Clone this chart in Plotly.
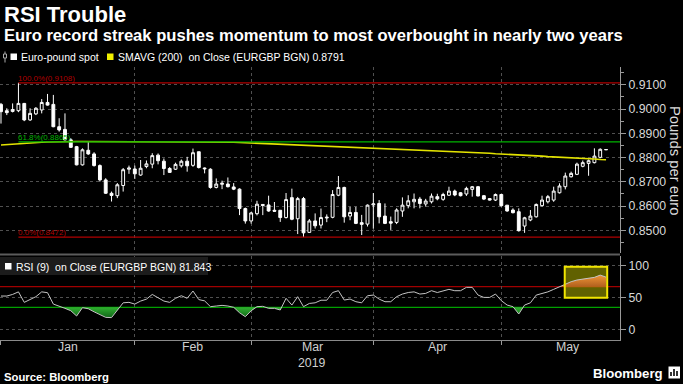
import numpy as np
import pandas as pd
import plotly.graph_objects as go

# ---------------- data ----------------
dates = pd.bdate_range("2019-01-01", "2019-05-27")

open_ = [.9019, .8993, .8990, .8993, .9023, .8955, .8980, .8996, .9027, .9019,
         .8927, .8916, .8873, .8845, .8770, .8830, .8815, .8767, .8708, .8653,
         .8643, .8685, .8752, .8753, .8728, .8763, .8773, .8810, .8785, .8755,
         .8752, .8766, .8785, .8768, .8824, .8757, .8752, .8677, .8690, .8691,
         .8679, .8670, .8590, .8539, .8569, .8607, .8605, .8583, .8583, .8553,
         .8635, .8548, .8631, .8492, .8539, .8522, .8555, .8554, .8645, .8677,
         .8559, .8574, .8532, .8526, .8605, .8611, .8559, .8536, .8533, .8580,
         .8602, .8618, .8629, .8609, .8618, .8639, .8628, .8645, .8662, .8655,
         .8650, .8669, .8680, .8643, .8631, .8625, .8648, .8604, .8584, .8577,
         .8518, .8543, .8556, .8602, .8618, .8625, .8655, .8680, .8721, .8731,
         .8764, .8776, .8779, .8801, .8832]
close = [.8989, .8985, .8998, .9023, .8955, .8982, .9003, .9027, .9016, .8927,
         .8914, .8873, .8842, .8770, .8832, .8815, .8767, .8708, .8653, .8644,
         .8688, .8750, .8757, .8733, .8756, .8774, .8808, .8787, .8755, .8739,
         .8772, .8785, .8766, .8820, .8759, .8754, .8677, .8691, .8694, .8680,
         .8670, .8590, .8539, .8572, .8608, .8603, .8580, .8579, .8553, .8627,
         .8546, .8631, .8490, .8539, .8519, .8553, .8552, .8648, .8677, .8556,
         .8574, .8529, .8525, .8604, .8609, .8556, .8529, .8530, .8584, .8604,
         .8622, .8628, .8611, .8621, .8641, .8630, .8648, .8662, .8646, .8643,
         .8673, .8680, .8642, .8629, .8625, .8648, .8602, .8580, .8573, .8499,
         .8552, .8559, .8607, .8625, .8639, .8662, .8683, .8724, .8735, .8773,
         .8779, .8787, .8806, .8834, .8833]
high = [.9025, .9003, .9023, .9108, .9025, .9003, .9008, .9041, .9062, .9058,
        .8962, .8982, .8880, .8848, .8838, .8866, .8822, .8772, .8715, .8660,
        .8695, .8757, .8767, .8767, .8790, .8788, .8818, .8817, .8796, .8761,
        .8779, .8792, .8803, .8837, .8824, .8759, .8756, .8714, .8705, .8718,
        .8695, .8673, .8594, .8576, .8622, .8608, .8643, .8617, .8583, .8654,
        .8672, .8638, .8638, .8547, .8570, .8590, .8566, .8666, .8724, .8680,
        .8597, .8597, .8564, .8607, .8654, .8625, .8611, .8557, .8591, .8636,
        .8645, .8652, .8638, .8630, .8652, .8651, .8655, .8680, .8668, .8658,
        .8680, .8683, .8683, .8646, .8632, .8652, .8650, .8604, .8591, .8591,
        .8556, .8584, .8611, .8643, .8646, .8680, .8694, .8738, .8742, .8779,
        .8788, .8792, .8838, .8838, .8834]
low = [.8940, .8975, .8986, .8987, .8950, .8951, .8975, .8982, .9014, .8925,
       .8907, .8871, .8840, .8768, .8767, .8811, .8763, .8701, .8650, .8619,
       .8633, .8660, .8733, .8712, .8725, .8756, .8756, .8772, .8728, .8737,
       .8749, .8759, .8742, .8762, .8755, .8735, .8672, .8673, .8670, .8677,
       .8666, .8563, .8528, .8528, .8562, .8563, .8577, .8577, .8535, .8549,
       .8542, .8485, .8472, .8490, .8508, .8508, .8534, .8550, .8641, .8532,
       .8542, .8526, .8481, .8516, .8507, .8529, .8526, .8502, .8526, .8556,
       .8591, .8591, .8591, .8598, .8611, .8624, .8622, .8642, .8641, .8640,
       .8642, .8639, .8640, .8625, .8623, .8621, .8598, .8577, .8570, .8495,
       .8490, .8538, .8553, .8598, .8611, .8618, .8652, .8669, .8718, .8728,
       .8760, .8725, .8776, .8797, .8831]
sma200 = [.8852, .8854, .8856, .8858, .8860, .8861, .8862, .8863, .8864, .8865,
          .8865, .8866, .8866, .8866, .8866, .8866, .8866, .8866, .8866, .8866,
          .8866, .8866, .8866, .8866, .8866, .8866, .8866, .8866, .8866, .8866,
          .8866, .8866, .8866, .8866, .8866, .8866, .8866, .8865, .8865, .8864,
          .8863, .8862, .8861, .8860, .8859, .8858, .8857, .8856, .8855, .8854,
          .8853, .8852, .8851, .8850, .8849, .8848, .8847, .8846, .8845, .8844,
          .8843, .8842, .8841, .8841, .8840, .8839, .8838, .8837, .8836, .8835,
          .8834, .8833, .8831, .8830, .8829, .8827, .8826, .8825, .8824, .8823,
          .8822, .8821, .8820, .8819, .8818, .8816, .8815, .8814, .8813, .8811,
          .8810, .8809, .8807, .8806, .8804, .8803, .8802, .8800, .8799, .8798,
          .8796, .8795, .8794, .8792, .8791]
rsi9 = [52.5, 52.5, 55, 59, 42.7, 47, 51.5, 59, 57.7, 40,
        37, 33.4, 29.7, 21.5, 34.4, 32.8, 28, 23.5, 19.4, 19,
        29.7, 42, 42.7, 40, 44.7, 47.7, 55, 50.4, 44.7, 42.7,
        49, 53, 49, 60.3, 47, 45, 36, 37, 38, 37,
        35, 26.6, 20.4, 29.7, 36, 36.5, 33.4, 33.4, 30.8, 49,
        38.5, 51.5, 36, 41, 42, 46, 46, 58, 60.8, 46.3,
        47.8, 43.7, 42, 53, 54, 47.8, 43.7, 43.7, 51.5, 55.6,
        58, 59, 55.6, 56.6, 60.8, 58, 60.8, 62.9, 60.8, 60.8,
        66, 66, 54, 50.4, 50.4, 55.6, 45.3, 38.5, 36, 24.6,
        38.5, 42, 54, 56.6, 59, 62.9, 67, 70.6, 74.8, 77.4,
        78.9, 80, 81.5, 85, 81.843]
rsi_upper = 67      # overbought guide line
rsi_lower = 35      # oversold guide line
month_names = ["Jan", "Feb", "Mar", "Apr", "May"]
year_label = "2019"

# ---------------- helpers ----------------
W, H = 683, 384
def px(x): return x / W
def py(y): return 1 - y / H

FONT = "Liberation Sans, Arial, sans-serif"
n = len(dates)
xi = np.arange(n)
xr = [-0.17, 106.4]

# month boundaries / label centres from the calendar
month_starts, month_centres = [], []
for m in range(1, 6):
    full = pd.bdate_range(f"2019-{m:02d}-01", pd.Timestamp(f"2019-{m:02d}-01") + pd.offsets.MonthEnd(0))
    first = (dates < full[0]).sum()
    month_starts.append(first)
    month_centres.append(first + len(full) / 2.0)

def with_crossings(xs, ys, level):
    X, Y = [xs[0]], [ys[0]]
    for i in range(1, len(xs)):
        y0, y1 = ys[i - 1], ys[i]
        if (y0 - level) * (y1 - level) < 0:
            t = (level - y0) / (y1 - y0)
            X.append(xs[i - 1] + t * (xs[i] - xs[i - 1]))
            Y.append(level)
        X.append(xs[i]); Y.append(ys[i])
    return np.array(X), np.array(Y)

fig = go.Figure()

# candles
fig.add_trace(go.Candlestick(
    x=xi, open=open_, high=high, low=low, close=close,
    increasing=dict(line=dict(color="white", width=1), fillcolor="black"),
    decreasing=dict(line=dict(color="white", width=1), fillcolor="white"),
    whiskerwidth=0, showlegend=False, xaxis="x", yaxis="y", hoverinfo="skip"))

# SMA 200
fig.add_trace(go.Scatter(x=xi, y=sma200, mode="lines", line=dict(color="#e3e300", width=1.6),
                         showlegend=False, xaxis="x", yaxis="y", hoverinfo="skip"))

# Fibonacci retracement
hi = max(high); hi_i = int(np.argmax(high)); lo = min(low)
fib = [(1.0, "#b00000"), (0.618, "#00b400"), (0.0, "#b00000")]
shapes, annotations = [], []
for f, col in fib:
    lvl = lo + f * (hi - lo)
    shapes.append(dict(type="line", xref="x", yref="y", x0=hi_i, x1=xr[1], y0=lvl, y1=lvl,
                       line=dict(color=col, width=1.3), layer="above"))
    annotations.append(dict(xref="x", yref="y", x=hi_i, y=lvl, xanchor="left", yanchor="bottom",
                            text=f"{f*100:.1f}%({lvl:.4f})", showarrow=False, yshift=-2, xshift=-2,
                            font=dict(family=FONT, size=8, color=col)))

# RSI fills
gx, gy = with_crossings(xi.astype(float), np.array(rsi9, float), rsi_lower)
fig.add_trace(go.Scatter(x=gx, y=np.full(len(gx), rsi_lower), mode="lines", line=dict(width=0),
                         showlegend=False, xaxis="x2", yaxis="y2", hoverinfo="skip"))
fig.add_trace(go.Scatter(x=gx, y=np.minimum(gy, rsi_lower), mode="lines", line=dict(width=0),
                         fill="tonexty", fillcolor="#1f8f1f",
                         fillgradient=dict(type="vertical", colorscale=[[0, "#12661a"], [1, "#30b030"]]),
                         showlegend=False, xaxis="x2", yaxis="y2", hoverinfo="skip"))
ox, oy = with_crossings(xi.astype(float), np.array(rsi9, float), rsi_upper)
fig.add_trace(go.Scatter(x=ox, y=np.full(len(ox), rsi_upper), mode="lines", line=dict(width=0),
                         showlegend=False, xaxis="x2", yaxis="y2", hoverinfo="skip"))
fig.add_trace(go.Scatter(x=ox, y=np.maximum(oy, rsi_upper), mode="lines", line=dict(width=0),
                         fill="tonexty", fillcolor="#d87a2a",
                         fillgradient=dict(type="vertical", colorscale=[[0, "#b0601e"], [1, "#f09536"]]),
                         showlegend=False, xaxis="x2", yaxis="y2", hoverinfo="skip"))
# RSI guide lines
for lvl, col in [(rsi_upper, "#a00000"), (rsi_lower, "#00a000")]:
    shapes.append(dict(type="line", xref="x2", yref="y2", x0=xr[0], x1=xr[1], y0=lvl, y1=lvl,
                       line=dict(color=col, width=1.3), layer="below"))
# RSI line
fig.add_trace(go.Scatter(x=xi, y=rsi9, mode="lines", line=dict(color="#c4c4c4", width=1),
                         showlegend=False, xaxis="x2", yaxis="y2", hoverinfo="skip"))

# highlight box over the latest RSI readings
shapes.append(dict(type="rect", xref="x2", yref="y2", x0=n - 1 - 7.1, x1=n - 1 + 0.2, y0=50, y1=98,
                   fillcolor="rgba(255,255,0,0.38)", line=dict(width=0), layer="below"))
shapes.append(dict(type="rect", xref="x2", yref="y2", x0=n - 1 - 7.1, x1=n - 1 + 0.2, y0=50, y1=98,
                   fillcolor="rgba(0,0,0,0)", line=dict(color="#f2e600", width=2), layer="above"))

# decorations: separator, legend boxes, logo
shapes.append(dict(type="line", xref="paper", yref="paper", x0=0, x1=px(620), y0=py(254.5), y1=py(254.5),
                   line=dict(color="#5c5c5c", width=2)))
shapes.append(dict(type="rect", xref="paper", yref="paper", x0=0, x1=px(208), y0=py(257), y1=py(275),
                   fillcolor="#1c1c1c", line=dict(width=0)))
shapes.append(dict(type="rect", xref="paper", yref="paper", x0=px(5), x1=px(11.5), y0=py(263), y1=py(269.5),
                   fillcolor="white", line=dict(width=0)))
shapes.append(dict(type="line", xref="paper", yref="paper", x0=px(5), x1=px(5), y0=py(51.5), y1=py(62.5),
                   line=dict(color="#aaaaaa", width=1)))
shapes.append(dict(type="rect", xref="paper", yref="paper", x0=px(3.5), x1=px(6.5), y0=py(54), y1=py(58),
                   fillcolor="black", line=dict(color="#aaaaaa", width=1)))
shapes.append(dict(type="rect", xref="paper", yref="paper", x0=px(10.5), x1=px(17), y0=py(53.5), y1=py(60),
                   fillcolor="white", line=dict(width=0)))
shapes.append(dict(type="rect", xref="paper", yref="paper", x0=px(107), x1=px(113.5), y0=py(53.5), y1=py(60),
                   fillcolor="#f0f000", line=dict(width=0)))
shapes.append(dict(type="rect", xref="paper", yref="paper", x0=px(668.5), x1=px(680), y0=py(366.5), y1=py(378.5),
                   fillcolor="white", line=dict(width=0)))
for bx, btop in [(671, 372), (674, 369), (677, 371)]:
    shapes.append(dict(type="rect", xref="paper", yref="paper", x0=px(bx - 0.8), x1=px(bx + 0.8),
                       y0=py(btop), y1=py(376), fillcolor="black", line=dict(width=0)))

def ann(x, y, text, size, color="white", bold=False, xanchor="left", **kw):
    t = f"<b>{text}</b>" if bold else text
    d = dict(xref="paper", yref="paper", x=px(x), y=py(y), text=t, showarrow=False,
             xanchor=xanchor, yanchor="middle", font=dict(family=FONT, size=size, color=color))
    d.update(kw)
    annotations.append(d)

ann(2, 14, "RSI Trouble", 22, bold=True)
ann(2, 35, "Euro record streak pushes momentum to most overbought in nearly two years", 16.6, bold=True)
ann(18.5, 57, "Euro-pound spot", 10.5)
ann(115.5, 57, f"SMAVG (200)\u00a0 on Close (EURGBP BGN) {sma200[-1]:.4f}", 10.5)
ann(13.5, 266.5, f"RSI (9)\u00a0 on Close (EURGBP BGN) {rsi9[-1]:.3f}", 10.5)
ann(675, 160, "Pounds per euro", 14.8, color="#dcdcdc", xanchor="center", textangle=90)
ann(2, 376.5, "Source: Bloomberg", 11.3, bold=True)
ann(665, 373, "Bloomberg", 13.2, bold=True, xanchor="right")

for name, c in zip(month_names, month_centres):
    annotations.append(dict(xref="x2", yref="paper", x=c, y=py(347), text=name, showarrow=False,
                            xanchor="center", yanchor="middle",
                            font=dict(family=FONT, size=12.3, color="#d0d0d0")))
annotations.append(dict(xref="x2", yref="paper", x=month_centres[2], y=py(362.5), text=year_label,
                        showarrow=False, xanchor="center", yanchor="middle",
                        font=dict(family=FONT, size=12.3, color="#d0d0d0")))

grid = dict(showgrid=True, gridcolor="#505050", griddash="dot", gridwidth=1)
xdom = [0, px(620)]

fig.update_layout(
    width=W, height=H, margin=dict(l=0, r=0, t=0, b=0),
    paper_bgcolor="black", plot_bgcolor="black", showlegend=False,
    font=dict(family=FONT, color="#d8d8d8"),
    xaxis=dict(domain=xdom, range=xr, anchor="y", tickmode="array", tickvals=month_starts,
               showticklabels=False, ticks="", zeroline=False, showline=False,
               rangeslider=dict(visible=False), **grid),
    yaxis=dict(domain=[py(253), py(67)], range=[0.8407, 0.9173], side="right", anchor="x",
               tickmode="linear", tick0=0.85, dtick=0.01, tickformat=".4f",
               tickfont=dict(family=FONT, size=12.3, color="#d8d8d8"),
               ticks="outside", ticklen=5, tickcolor="#9a9a9a",
               minor=dict(dtick=0.005, ticks="outside", ticklen=3, tickcolor="#9a9a9a", showgrid=False),
               showline=True, linecolor="#9a9a9a", linewidth=1, zeroline=False, **grid),
    xaxis2=dict(domain=xdom, range=xr, anchor="y2", tickmode="array", tickvals=month_starts,
                showticklabels=False, ticks="outside", ticklen=4, tickcolor="#9a9a9a",
                showline=True, linecolor="#8a8a8a", linewidth=1, zeroline=False, **grid),
    yaxis2=dict(domain=[py(339.5), py(256)], range=[-15, 114.7], side="right", anchor="x2",
                tickmode="array", tickvals=[0, 50, 100],
                tickfont=dict(family=FONT, size=12.3, color="#d8d8d8"),
                ticks="outside", ticklen=5, tickcolor="#9a9a9a",
                showline=True, linecolor="#9a9a9a", linewidth=1, zeroline=False, **grid),
    shapes=shapes, annotations=annotations,
)

fig.write_html("out.html", config={"displayModeBar": False},
               post_script="document.body.style.margin='0px';document.body.style.overflow='hidden';"
                           "document.body.style.background='black';")
